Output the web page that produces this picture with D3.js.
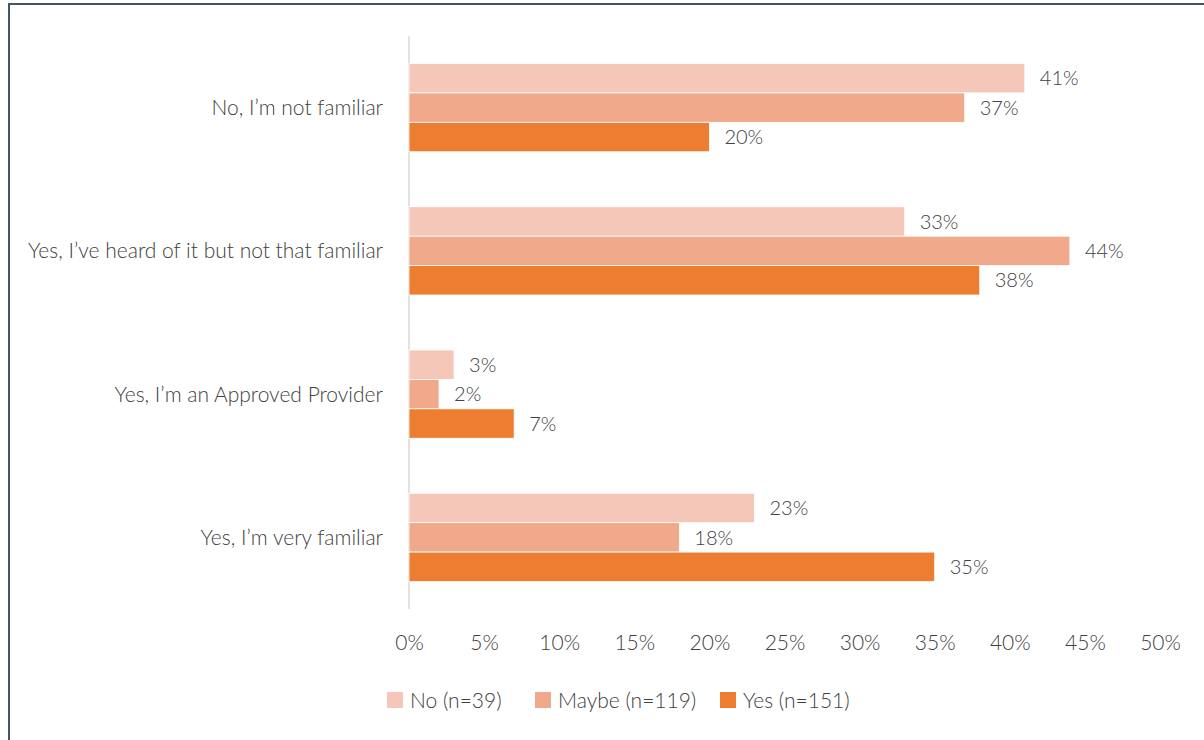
<!DOCTYPE html>
<html>
<head>
<meta charset="utf-8">
<script src="https://cdn.jsdelivr.net/npm/d3@7"></script>
<style>
  html, body { margin: 0; padding: 0; background: #ffffff; }
  svg { display: block; }
  text { font-family: Lato, "Open Sans", sans-serif; font-weight: 300; fill: #404040; }
</style>
</head>
<body>
<svg id="chart" width="1204" height="740"></svg>
<script>
// Familiarity responses, grouped by answer, split by respondent segment
const categories = [
  "No, I\u2019m not familiar",
  "Yes, I\u2019ve heard of it but not that familiar",
  "Yes, I\u2019m an Approved Provider",
  "Yes, I\u2019m very familiar"
];
const seriesNames = ["No (n=39)", "Maybe (n=119)", "Yes (n=151)"];
const seriesNo = [41, 33, 3, 23];
const seriesMaybe = [37, 44, 2, 18];
const seriesYes = [20, 38, 7, 35];
const xTicks = [0, 5, 10, 15, 20, 25, 30, 35, 40, 45, 50];
const colors = ["#f5c7b8", "#f1a98b", "#ed7d31"];

const seriesValues = [seriesNo, seriesMaybe, seriesYes];

const svg = d3.select("#chart");

// Frame along the top and left edges
svg.append("line").attr("x1", 8).attr("x2", 1204).attr("y1", 4).attr("y2", 4)
  .attr("stroke", "#44546a").attr("stroke-width", 2);
svg.append("line").attr("x1", 9).attr("x2", 9).attr("y1", 3).attr("y2", 740)
  .attr("stroke", "#44546a").attr("stroke-width", 2);

const x = d3.scaleLinear().domain([0, 50]).range([409, 1160]);
const y0 = d3.scaleBand().domain(categories).range([36, 609]).paddingInner(0.384).paddingOuter(0.192);
const y1 = d3.scaleBand().domain(seriesNames).range([0, y0.bandwidth()]);

// Vertical baseline
svg.append("line")
  .attr("x1", x(0)).attr("x2", x(0))
  .attr("y1", 36).attr("y2", 609)
  .attr("stroke", "#d9d9d9").attr("stroke-width", 1.5);

const groups = svg.selectAll("g.cat")
  .data(categories)
  .join("g")
  .attr("class", "cat")
  .attr("transform", d => `translate(0,${y0(d)})`);

groups.each(function(cat, ci) {
  const g = d3.select(this);
  seriesNames.forEach((s, si) => {
    const v = seriesValues[si][ci];
    g.append("rect")
      .attr("x", x(0))
      .attr("y", y1(s))
      .attr("width", x(v) - x(0))
      .attr("height", y1.bandwidth())
      .attr("fill", colors[si])
      .attr("stroke", "#ffffff")
      .attr("stroke-width", 0.8);
    g.append("text")
      .attr("x", x(v) + 15)
      .attr("y", y1(s) + y1.bandwidth() / 2)
      .attr("dy", "0.36em")
      .attr("font-size", 20)
      .text(v + "%");
  });
});

// Category labels
svg.selectAll("text.cat-label")
  .data(categories)
  .join("text")
  .attr("class", "cat-label")
  .attr("x", 383)
  .attr("y", d => y0(d) + y0.bandwidth() / 2)
  .attr("dy", "0.36em")
  .attr("text-anchor", "end")
  .attr("font-size", 21)
  .text(d => d);

// X axis labels
const xAxis = d3.axisBottom(x).tickValues(xTicks).tickFormat(d => d + "%").tickSize(0).tickPadding(0);
const ax = svg.append("g").attr("transform", "translate(0,635)").call(xAxis);
ax.select(".domain").remove();
ax.selectAll("text")
  .attr("font-size", 21)
  .attr("fill", "#595959")
  .style("font-family", "Lato, sans-serif")
  .style("font-weight", 300);

// Legend
const legendX = [387, 535, 720];
const legend = svg.selectAll("g.legend")
  .data(seriesNames)
  .join("g")
  .attr("class", "legend")
  .attr("transform", (d, i) => `translate(${legendX[i]},692)`);
legend.append("rect").attr("width", 16).attr("height", 16).attr("fill", (d, i) => colors[i]);
legend.append("text")
  .attr("x", 23).attr("y", 8).attr("dy", "0.36em")
  .attr("font-size", 21)
  .attr("fill", "#595959")
  .text(d => d);
</script>
</body>
</html>
